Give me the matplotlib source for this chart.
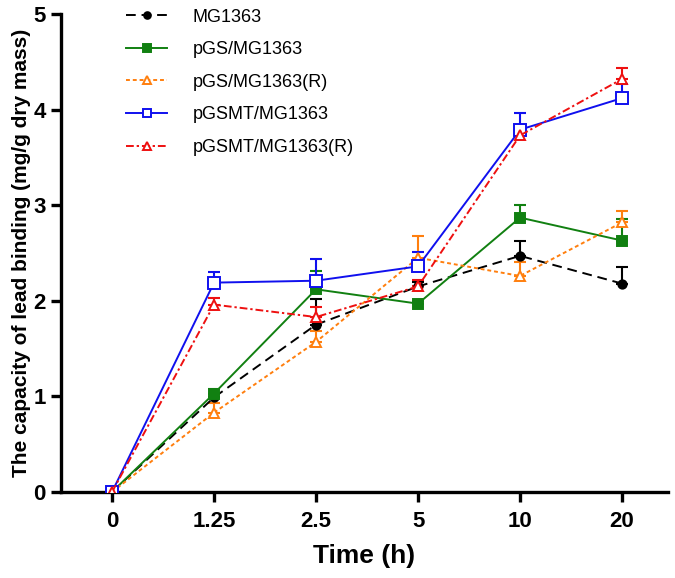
import matplotlib
matplotlib.use("Agg")
import matplotlib.pyplot as plt
import numpy as np

plt.rcParams['font.family'] = ['Liberation Sans', 'DejaVu Sans']

time_labels = ["0", "1.25", "2.5", "5", "10", "20"]

series_names = ["MG1363", "pGS/MG1363", "pGS/MG1363(R)", "pGSMT/MG1363", "pGSMT/MG1363(R)"]

mg1363 = [0.0, 0.99, 1.75, 2.15, 2.47, 2.18]
mg1363_err = [0.0, 0.04, 0.27, 0.05, 0.16, 0.17]

pgs = [0.0, 1.03, 2.12, 1.97, 2.87, 2.63]
pgs_err = [0.0, 0.05, 0.19, 0.03, 0.13, 0.23]

pgs_r = [0.0, 0.83, 1.57, 2.45, 2.26, 2.82]
pgs_r_err = [0.0, 0.10, 0.11, 0.23, 0.15, 0.12]

pgsmt = [0.0, 2.19, 2.21, 2.36, 3.79, 4.12]
pgsmt_err = [0.0, 0.11, 0.23, 0.15, 0.17, 0.15]

pgsmt_r = [0.0, 1.96, 1.83, 2.15, 3.73, 4.32]
pgsmt_r_err = [0.0, 0.07, 0.11, 0.07, 0.10, 0.11]

fig = plt.figure(figsize=(6.75, 5.78), dpi=100)
ax = fig.add_axes([0.0904, 0.1488, 0.8992, 0.827])

x = np.arange(len(time_labels))

styles = [
    dict(data=mg1363, err=mg1363_err, color="black", ls=(0, (5, 3)), marker="o", mfc="black", ms=6),
    dict(data=pgs, err=pgs_err, color="#118011", ls="-", marker="s", mfc="#118011", ms=6.5),
    dict(data=pgs_r, err=pgs_r_err, color="#ff7f0e", ls=(0, (2, 1.5)), marker="^", mfc="white", ms=7),
    dict(data=pgsmt, err=pgsmt_err, color="#1010ee", ls="-", marker="s", mfc="white", ms=8),
    dict(data=pgsmt_r, err=pgsmt_r_err, color="#ee1010", ls=(0, (4, 1.5, 1.2, 1.5)), marker="^", mfc="white", ms=7),
]

for name, st in zip(series_names, styles):
    y = np.array(st["data"])
    e = np.array(st["err"])
    ax.errorbar(x, y, yerr=[np.zeros_like(e), e], fmt="none", ecolor=st["color"],
                elinewidth=1.5, capsize=4.5, capthick=1.5, zorder=2)
    ax.plot(x, y, color=st["color"], linestyle=st["ls"], linewidth=1.4,
            marker=st["marker"], markerfacecolor=st["mfc"], markeredgecolor=st["color"],
            markeredgewidth=1.4, markersize=st["ms"], label=name, zorder=3)

ax.set_xlim(-0.5, 5.45)
ax.set_ylim(0, 5)
ax.set_xticks(x)
ax.set_xticklabels(time_labels)
ax.set_yticks([0, 1, 2, 3, 4, 5])

for s in ["top", "right"]:
    ax.spines[s].set_visible(False)
for s in ["left", "bottom"]:
    ax.spines[s].set_linewidth(2.4)

ax.tick_params(axis="both", which="major", length=7, width=2.4, direction="out", labelsize=16)
ax.tick_params(axis="x", pad=7)
ax.tick_params(axis="y", pad=4)
for lab in ax.get_xticklabels() + ax.get_yticklabels():
    lab.set_fontweight("bold")

ax.set_xlabel("Time (h)", fontsize=19, fontweight="bold", labelpad=8)
ax.set_ylabel("The capacity of lead binding (mg/g dry mass)", fontsize=15, fontweight="bold", labelpad=2)

leg = ax.legend(loc="upper left", bbox_to_anchor=(0.08, 1.045), frameon=False, fontsize=13,
                handlelength=2.3, handletextpad=1.4, labelspacing=0.86, markerscale=0.8)

fig.savefig("out.png", dpi=100)
